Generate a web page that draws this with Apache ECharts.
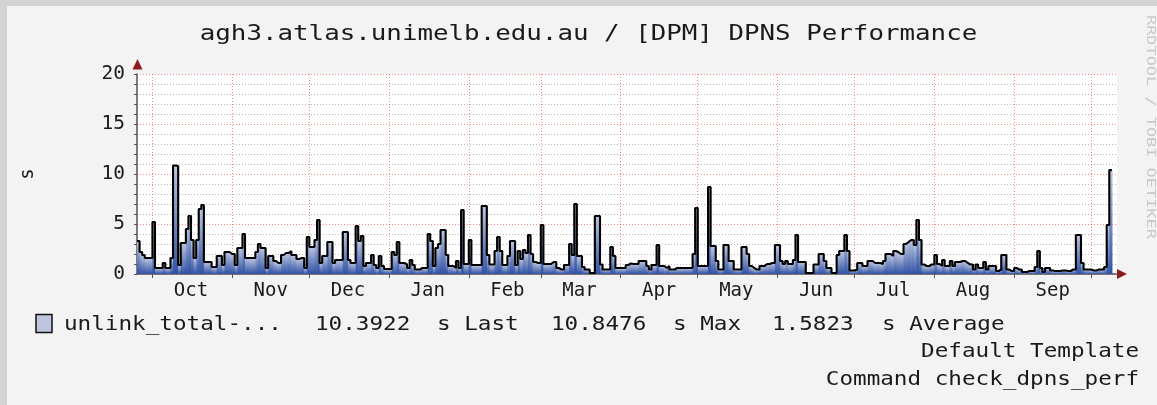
<!DOCTYPE html>
<html>
<head>
<meta charset="utf-8">
<script src="https://cdn.jsdelivr.net/npm/echarts@6/dist/echarts.min.js"></script>
<style>
html,body{margin:0;padding:0;background:#f3f3f3;}
#chart{width:1157px;height:405px;}
</style>
</head>
<body>
<div id="chart"></div>
<script>
// ---- text ----
const chartTitle = 'agh3.atlas.unimelb.edu.au / [DPM] DPNS Performance';
const seriesLabel = 'unlink_total-...';
const unitName = 's';
const lastValueText = '10.3922';
const maxValueText = '10.8476';
const avgValueText = '1.5823';
const comment1 = 'Default Template';
const comment2 = 'Command check_dpns_perf';
const watermark = 'RRDTOOL / TOBI OETIKER';
const monthNames = ['Jan','Feb','Mar','Apr','May','Jun','Jul','Aug','Sep','Oct','Nov','Dec'];

// ---- x categories: one per day, Sep 25 .. Oct 11 ----
const startDay = '2010-09-25';
const dayCount = 382;

// ---- daily values (s), month by month ----
const valuesSep = [3.3,2.2,1.9,1.6,1.6,1.6];
const valuesOct = [5.2,0.6,0.6,0.6,1.1,0.6,0.6,1.6,10.8476,10.8,0.9,3.1,3.1,4.5,5.8,3.4,1.6,3.4,6.5,6.9,1.2,1.2,1.2,0.7,0.7,1.8,1.8,0.9,2.2,2.2,2.0];
const valuesNov = [2.0,0.9,2.6,2.6,4.0,1.6,1.6,1.6,1.6,2.2,3.0,2.6,2.6,0.6,1.8,1.8,1.3,1.1,1.1,1.9,2.1,2.1,2.3,1.9,1.9,1.5,1.6,1.6,0.6,3.7];
const valuesDec = [2.7,2.7,3.4,5.4,1.1,1.8,1.8,3.2,3.2,1.1,1.4,1.4,1.4,4.2,4.2,1.4,1.1,1.1,4.8,3.3,3.8,0.8,1.1,1.1,1.9,0.9,0.6,1.8,0.8,0.5,0.5];
const valuesJan = [0.5,2.2,1.9,3.2,1.1,1.1,0.95,0.6,1.4,0.9,0.45,0.45,0.6,0.6,0.6,4.0,3.3,0.8,2.6,3.0,4.4,4.4,1.9,0.8,0.8,0.6,1.3,0.6,6.4,1.0,1.0];
const valuesFeb = [3.4,0.9,0.9,0.9,0.9,6.8,6.8,1.9,0.95,0.95,2.3,3.7,2.3,0.9,0.9,1.8,3.3,3.3,0.9,2.3,1.5,2.4,2.1,3.9,2.0,1.2,1.1,1.1];
const valuesMar = [4.9,1.0,1.0,1.0,1.2,1.2,0.6,0.45,0.45,0.9,0.9,3.0,1.9,7.0,1.8,1.8,0.7,0.45,0.45,0.1,0.1,5.8,5.8,0.95,0.45,0.45,0.45,2.7,1.8,0.6,0.6];
const valuesApr = [0.6,0.6,0.9,1.05,1.0,1.0,1.0,1.3,1.3,1.3,0.8,0.45,0.9,0.9,2.9,0.8,0.8,0.6,0.8,0.45,0.45,0.6,0.6,0.6,0.6,0.6,0.6,0.6,2.0,6.6];
const valuesMay = [0.8,0.8,0.8,0.8,8.7,2.8,2.8,1.3,0.45,0.45,2.9,2.9,1.3,1.3,0.45,0.45,0.45,2.7,2.7,2.0,0.8,0.6,0.45,0.45,0.8,0.8,1.0,1.0,1.1,1.1,2.9];
const valuesJun = [2.9,1.3,1.0,1.3,1.0,1.0,1.4,3.9,1.2,1.2,1.2,0.1,0.1,0.1,0.95,0.95,2.0,2.0,1.3,0.6,0.6,0.1,0.1,1.9,2.3,2.3,3.9,2.3,0.35,0.35];
const valuesJul = [0.45,1.1,1.1,0.8,0.8,1.3,1.3,1.1,1.1,1.1,1.0,1.3,2.0,2.0,1.8,2.3,2.2,2.0,2.0,3.0,3.2,3.4,3.4,2.9,5.4,3.4,0.95,0.8,0.8,0.95,0.95];
const valuesAug = [1.9,1.0,0.8,1.4,0.8,0.8,1.3,0.8,1.2,1.2,1.3,1.3,1.1,0.95,0.95,0.45,0.95,0.6,0.6,1.2,0.45,0.8,0.8,0.8,0.3,0.45,1.9,1.9,0.45,0.3,0.3];
const valuesSep2 = [0.6,0.45,0.45,0.2,0.2,0.3,0.3,0.3,0.7,2.3,0.6,0.2,0.6,0.6,0.35,0.3,0.3,0.3,0.35,0.35,0.3,0.3,0.45,0.45,3.9,3.9,1.1,0.45,0.45,0.45];
const valuesOct2 = [0.35,0.35,0.45,0.45,0.45,0.7,4.9,10.3922];

const values = [].concat(valuesSep, valuesOct, valuesNov, valuesDec, valuesJan, valuesFeb,
  valuesMar, valuesApr, valuesMay, valuesJun, valuesJul, valuesAug, valuesSep2, valuesOct2);

// ---- build axis categories ----
const categories = [];
const t0 = Date.parse(startDay + 'T00:00:00Z');
for (let i = 0; i < dayCount; i++) {
  categories.push(new Date(t0 + i * 86400000).toISOString().slice(0, 10));
}
const dayOf = v => +String(v).slice(8, 10);
const isMonthStart = (idx, v) => dayOf(v) === 1;
const isMidMonth = (idx, v) => dayOf(v) === 16;

// area: one rect per day (each day covers [i, i+1]), per-column vertical gradient
const areaData = values.map((v, i) => [i, v]);
// outline: step line, the last value held to the end of its day
const lineData = values.map((v, i) => [i, v]);
lineData.push([values.length, values[values.length - 1]]);

const FONT = 'DejaVu Sans Mono';
const chart = echarts.init(document.getElementById('chart'), null, {renderer: 'canvas'});

const grad = () => new echarts.graphic.LinearGradient(0, 0, 0, 1, [
  {offset: 0, color: '#BDC6DE'}, {offset: 1, color: '#3152A5'}
]);

chart.setOption({
  backgroundColor: '#f3f3f3',
  animation: false,
  grid: {left: 137, right: 40, top: 74, bottom: 131, show: true, backgroundColor: '#ffffff', borderWidth: 0},
  xAxis: {
    type: 'category',
    data: categories,
    boundaryGap: false,
    axisLine: {show: true, lineStyle: {color: '#555', width: 1.5}},
    axisTick: {show: true, interval: isMonthStart, length: 4, lineStyle: {color: '#555'}},
    axisLabel: {
      interval: isMidMonth, margin: 8, fontFamily: FONT, fontSize: 19, color: '#1a1a1a',
      formatter: v => monthNames[+String(v).slice(5, 7) - 1]
    },
    splitLine: {show: true, interval: isMonthStart, lineStyle: {color: 'rgba(255,40,40,0.55)', type: [1, 2], width: 1}}
  },
  yAxis: {
    type: 'value', min: 0, max: 20, interval: 5,
    name: unitName, nameLocation: 'middle', nameGap: 99, nameRotate: 90,
    nameTextStyle: {fontFamily: FONT, fontSize: 19, color: '#1a1a1a'},
    axisLine: {show: true, lineStyle: {color: '#555', width: 1.5}},
    axisTick: {show: true, length: 3, lineStyle: {color: '#555'}},
    minorTick: {show: true, splitNumber: 5, length: 3, lineStyle: {color: '#555'}},
    axisLabel: {margin: 12, fontFamily: FONT, fontSize: 19.5, color: '#1a1a1a'},
    splitLine: {show: true, lineStyle: {color: 'rgba(255,40,40,0.55)', type: [1, 2], width: 1}},
    minorSplitLine: {show: true, lineStyle: {color: 'rgba(110,110,110,0.5)', type: [1, 2], width: 1}}
  },
  series: [
    {
      type: 'custom',
      z: 2,
      data: areaData,
      encode: {x: 0, y: 1},
      renderItem: (params, api) => {
        const i = api.value(0), v = api.value(1);
        const p0 = api.coord([i, 0]);
        const p1 = api.coord([i + 1, v]);
        return {
          type: 'rect',
          shape: {x: p0[0], y: p1[1], width: p1[0] - p0[0] + 0.6, height: p0[1] - p1[1]},
          style: {fill: grad(), stroke: null}
        };
      }
    },
    {
      type: 'line',
      z: 3,
      data: lineData,
      step: 'end',
      symbol: 'none',
      lineStyle: {color: '#000', width: 2.1},
      silent: true
    }
  ],
  graphic: [
    {type: 'rect', left: 0, top: 0, shape: {width: 1157, height: 6}, style: {fill: '#d3d3d3'}, silent: true},
    {type: 'rect', left: 0, top: 0, shape: {width: 7, height: 405}, style: {fill: '#d3d3d3'}, silent: true},
    {type: 'text', x: 588.5, y: 35, scaleX: 1.23,
      style: {text: chartTitle, font: '21px "' + FONT + '"', fill: '#1a1a1a', textAlign: 'center', textVerticalAlign: 'middle'}},
    {type: 'text', x: 1150, y: 15, rotation: -Math.PI / 2, scaleX: 1.3,
      style: {text: watermark, font: '13px "' + FONT + '"', fill: '#c8c8c8', textAlign: 'left', textVerticalAlign: 'middle'}},
    // axis arrows
    {type: 'polygon', shape: {points: [[137.5, 59], [132.5, 69.5], [142.5, 69.5]]}, style: {fill: '#8e1b1b'}},
    {type: 'polygon', shape: {points: [[1127, 274], [1117, 269], [1117, 279]]}, style: {fill: '#8e1b1b'}},
    // legend
    {type: 'rect', shape: {x: 36, y: 314.5, width: 16, height: 18}, style: {fill: '#BDC6DE', stroke: '#111', lineWidth: 1.5}},
    {type: 'text', x: 64, y: 325, scaleX: 1.16, style: {text: seriesLabel, font: '19.5px "' + FONT + '"', fill: '#1a1a1a', textVerticalAlign: 'middle'}},
    {type: 'text', x: 315, y: 325, scaleX: 1.16, style: {text: lastValueText, font: '19.5px "' + FONT + '"', fill: '#1a1a1a', textVerticalAlign: 'middle'}},
    {type: 'text', x: 437, y: 325, scaleX: 1.16, style: {text: unitName + ' Last', font: '19.5px "' + FONT + '"', fill: '#1a1a1a', textVerticalAlign: 'middle'}},
    {type: 'text', x: 551, y: 325, scaleX: 1.16, style: {text: maxValueText, font: '19.5px "' + FONT + '"', fill: '#1a1a1a', textVerticalAlign: 'middle'}},
    {type: 'text', x: 673, y: 325, scaleX: 1.16, style: {text: unitName + ' Max', font: '19.5px "' + FONT + '"', fill: '#1a1a1a', textVerticalAlign: 'middle'}},
    {type: 'text', x: 772, y: 325, scaleX: 1.16, style: {text: avgValueText, font: '19.5px "' + FONT + '"', fill: '#1a1a1a', textVerticalAlign: 'middle'}},
    {type: 'text', x: 882, y: 325, scaleX: 1.16, style: {text: unitName + ' Average', font: '19.5px "' + FONT + '"', fill: '#1a1a1a', textVerticalAlign: 'middle'}},
    {type: 'text', x: 1139, y: 352, scaleX: 1.16, style: {text: comment1, font: '19.5px "' + FONT + '"', fill: '#1a1a1a', textAlign: 'right', textVerticalAlign: 'middle'}},
    {type: 'text', x: 1139, y: 380, scaleX: 1.16, style: {text: comment2, font: '19.5px "' + FONT + '"', fill: '#1a1a1a', textAlign: 'right', textVerticalAlign: 'middle'}}
  ]
});
</script>
</body>
</html>
